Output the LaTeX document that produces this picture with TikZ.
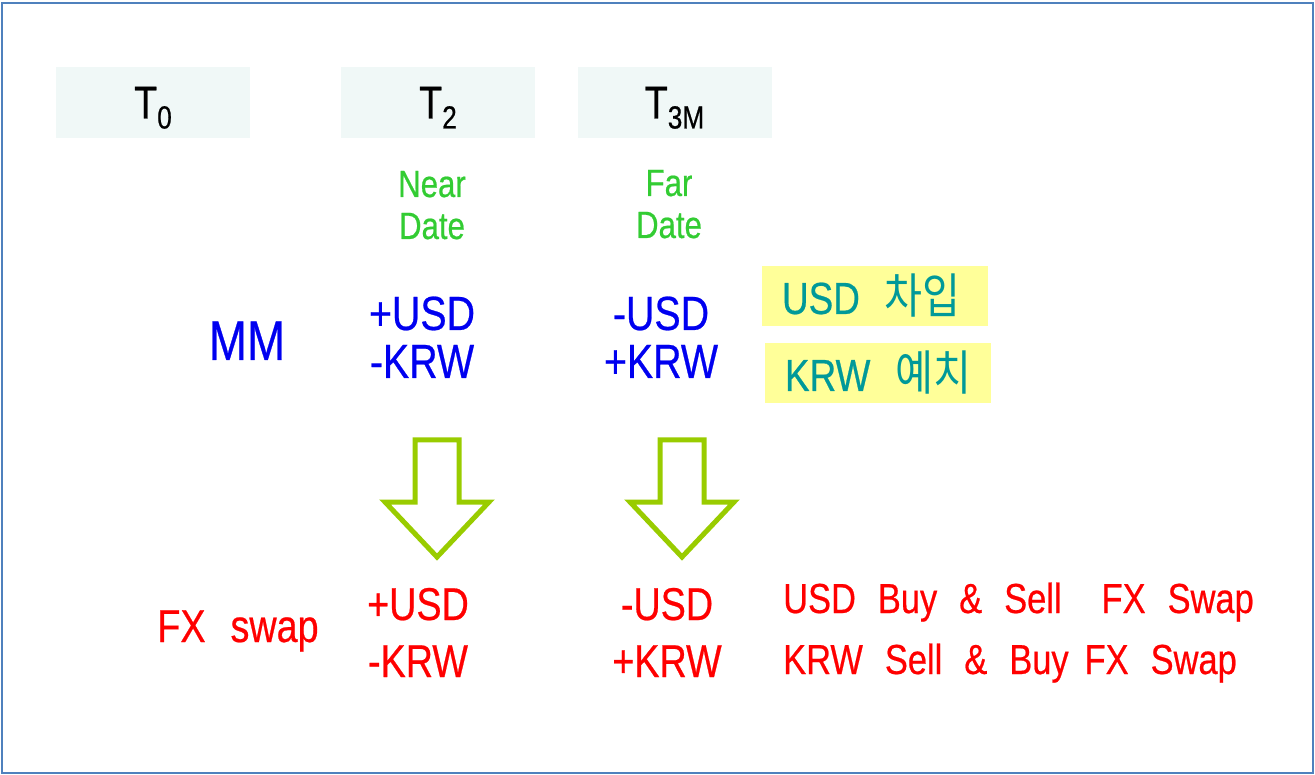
\documentclass[tikz,border=0pt]{standalone}
\usepackage{fontspec}
\setmainfont[FakeStretch=0.82,FakeBold=0.5]{Liberation Sans}
\newfontfamily\hangul[FakeStretch=0.86]{Noto Sans CJK KR}
\usetikzlibrary{positioning}
\definecolor{frameblue}{RGB}{79,129,189}
\definecolor{datecyan}{RGB}{240,248,247}
\definecolor{taggreen}{RGB}{51,204,51}
\definecolor{mmblue}{RGB}{0,0,240}
\definecolor{swapred}{RGB}{255,0,0}
\definecolor{memoyellow}{RGB}{255,255,153}
\definecolor{memoteal}{RGB}{0,153,153}
\definecolor{arrowgreen}{RGB}{153,204,0}

\newcommand{\tsub}[1]{\raisebox{-10pt}{\fontsize{32}{32}\selectfont #1}}
\newcommand{\gap}[1][22pt]{\hspace{#1}}
\newcommand{\memoline}[2]{\makebox[186pt][l]{#1\gap[25pt]{\hangul\fontsize{48}{48}\selectfont #2}}}

\begin{document}
\begin{tikzpicture}[
    x=1pt, y=-1pt,
    datebox/.style={rectangle, fill=datecyan, minimum width=194pt, minimum height=71pt,
        text height=32pt, text depth=0pt, inner sep=0pt, font=\fontsize{46}{46}\selectfont},
    tag/.style={anchor=base, text=taggreen, inner sep=0pt, font=\fontsize{38}{38}\selectfont},
    mmflow/.style={anchor=base, text=mmblue, inner sep=0pt, font=\fontsize{48}{48}\selectfont},
    swapflow/.style={anchor=base, text=swapred, inner sep=0pt, font=\fontsize{46}{46}\selectfont},
    memo/.style={rectangle, fill=memoyellow, text=memoteal, minimum height=60pt,
        inner xsep=20pt, inner ysep=0pt, font=\fontsize{45}{45}\selectfont},
    swapnote/.style={anchor=base west, text=swapred, inner sep=0pt, font=\fontsize{42}{42}\selectfont},
    blockarrow/.style={draw=arrowgreen, line width=5pt, line join=miter}
]
\useasboundingbox (0,0) rectangle (1315,775);

% frame
\draw[frameblue, line width=2.5pt] (2,3) rectangle (1313,773);

% dates
\node[datebox] (t0) at (153,102.5) {T\tsub{0}};
\node[datebox] (t2) at (438,102.5) {T\tsub{2}};
\node[datebox] (t3m) at (674.5,102.5) {T\tsub{3M}};

\node[tag] (near) at (432,197) {Near};
\node[tag] (neardate) at (432,239) {Date};
\node[tag] (far) at (669,196) {Far};
\node[tag] (fardate) at (669,238) {Date};

% money market
\node[mmflow, font=\fontsize{56}{56}\selectfont] (mm) at (247,360) {MM};
\node[mmflow] (mmusd) at (422,330) {+USD};
\node[mmflow] (mmkrw) at (422,378) {-KRW};
\node[mmflow] (mmusdfar) at (661,330) {-USD};
\node[mmflow] (mmkrwfar) at (661,378) {+KRW};

\node[memo] (borrow) at (875,296) {\memoline{USD}{차입}};
\node[memo] (deposit) at (878,373) {\memoline{KRW}{예치}};

% same flows
\foreach \cx in {437,682} {
    \draw[blockarrow] (\cx-22,440) -- (\cx+22,440) -- (\cx+22,502) -- (\cx+52,502)
        -- (\cx,557) -- (\cx-52,502) -- (\cx-22,502) -- cycle;
}

% fx swap
\node[swapflow] (fx) at (238,642) {FX\gap[25pt]swap};
\node[swapflow] (fxusd) at (418,620) {+USD};
\node[swapflow] (fxkrw) at (418,677) {-KRW};
\node[swapflow] (fxusdfar) at (667,620) {-USD};
\node[swapflow] (fxkrwfar) at (667,677) {+KRW};

\node[swapnote] (buysell) at (783,613) {USD\gap Buy\gap\&\gap Sell\gap[40pt]FX\gap Swap};
\node[swapnote] (sellbuy) at (783,674) {KRW\gap Sell\gap\&\gap Buy\gap[16pt]FX\gap Swap};

\end{tikzpicture}
\end{document}
